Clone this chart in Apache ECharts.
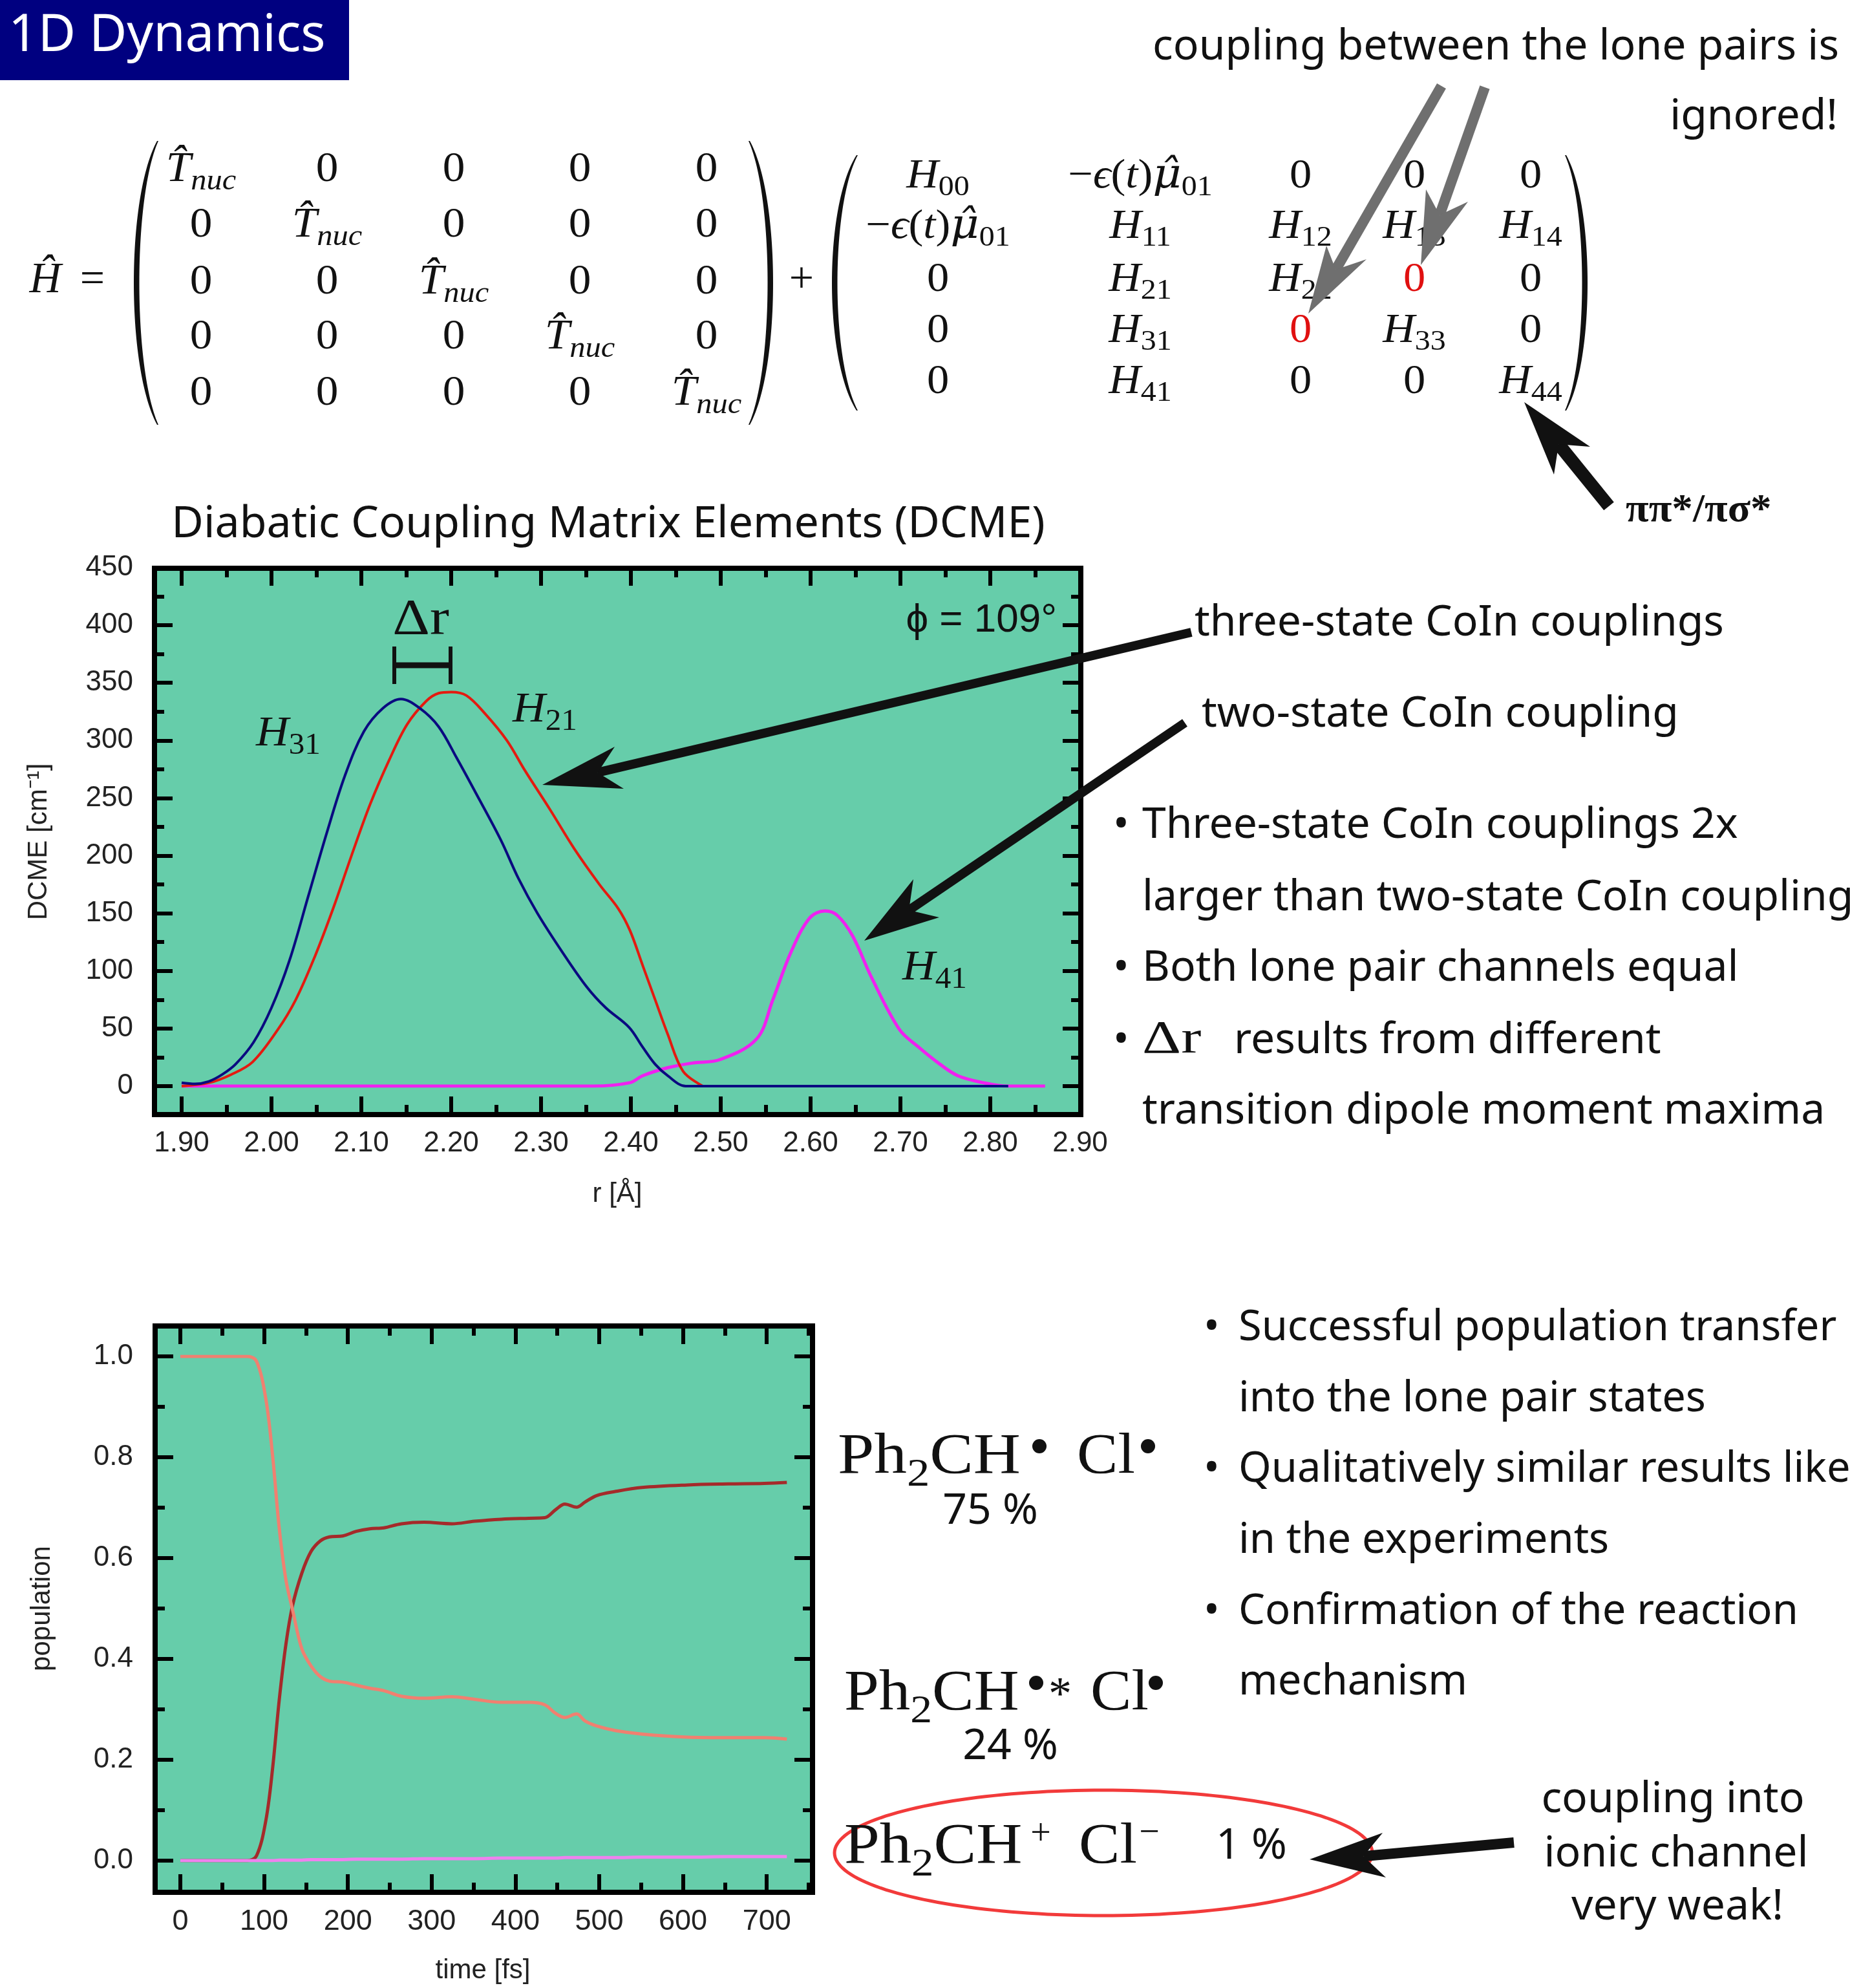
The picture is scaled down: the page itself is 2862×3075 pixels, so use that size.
<!DOCTYPE html>
<html><head><meta charset="utf-8">
<script src="https://cdn.jsdelivr.net/npm/echarts@6/dist/echarts.min.js"></script>
<style>html,body{margin:0;padding:0;background:#fff}#c{width:2862px;height:3075px}</style>
</head><body><div id="c"></div>
<script>
// ---------------- DATA ----------------
// Diabatic coupling matrix elements vs r [Å]
const rH31 = [1.90,1.915,1.93,1.945,1.96,1.98,2.00,2.02,2.041,2.062,2.082,2.103,2.124,2.144,2.165,2.186,2.206,2.227,2.255,2.275,2.296,2.324,2.351,2.372,2.398,2.413,2.427,2.441,2.461,2.50,2.82];
const vH31 = [3,2,4,10,19,38,68,109,165,221,270,308,328,336,328,312,285,255,214,180,150,116,86,68,51,34,19,9,0,0,0];
const rH21 = [1.90,1.931,1.955,1.979,2.007,2.027,2.048,2.069,2.089,2.11,2.131,2.151,2.172,2.186,2.2,2.217,2.238,2.262,2.282,2.31,2.337,2.365,2.386,2.399,2.413,2.427,2.441,2.458,2.48];
const vH21 = [0,3,10,21,49,75,112,155,200,245,283,314,334,341,342,339,323,300,274,240,206,175,154,135,105,75,45,13,0];
const rH41 = [1.90,2.30,2.358,2.399,2.413,2.441,2.468,2.499,2.54,2.558,2.578,2.599,2.616,2.63,2.647,2.668,2.699,2.72,2.744,2.764,2.792,2.819,2.861];
const vH41 = [0,0,0,3,9,16,20,23,41,75,116,146,152,148,130,94,49,34,19,9,3,0,0];
// Populations vs time [fs]
const timeFs = [0,80,91,102,110,118,126,134,145,156,167,178,194,210,226,243,264,291,324,351,383,416,435,448,459,473,483,497,519,551,605,654,697,724];
const popLonePair = [0,0,0.01,0.079,0.181,0.318,0.429,0.506,0.57,0.613,0.634,0.642,0.644,0.653,0.658,0.66,0.668,0.671,0.668,0.673,0.677,0.679,0.68,0.696,0.707,0.701,0.711,0.724,0.732,0.74,0.745,0.747,0.748,0.75];
const popPiPi = [1,1,0.99,0.916,0.805,0.66,0.557,0.497,0.42,0.386,0.365,0.356,0.354,0.348,0.342,0.337,0.326,0.322,0.325,0.32,0.314,0.314,0.309,0.292,0.284,0.291,0.277,0.267,0.258,0.251,0.245,0.244,0.244,0.241];
const popIonic = [0,0,0,0,0,0.001,0.001,0.001,0.001,0.002,0.002,0.002,0.002,0.003,0.003,0.003,0.003,0.004,0.004,0.004,0.005,0.005,0.005,0.005,0.006,0.006,0.006,0.006,0.006,0.007,0.007,0.008,0.008,0.008];
// tick values of the time axis
const timeMajorTicks = [0,100,200,300,400,500,600,700];

// ---------------- helpers ----------------
const zip = (a, b) => a.map((v, i) => [v, b[i]]);
const SANS = "'Noto Sans','Open Sans',sans-serif";
const CHART = "'Liberation Sans',Arial,sans-serif";
const SERIF = "'Liberation Serif','DejaVu Serif',serif";

function T(x, y, text, fs, o) {
  o = o || {};
  const st = {text: text, fill: o.fill || '#111', fontSize: fs, fontFamily: o.ff || SANS,
    fontStyle: o.fst || 'normal', fontWeight: o.fw || 'normal',
    textAlign: o.al || 'left', align: o.al || 'left', textVerticalAlign: 'middle', verticalAlign: 'middle'};
  if (o.rich) st.rich = o.rich;
  const el = {type: 'text', x: x, y: y, z: 110, style: st};
  if (o.rot) el.rotation = o.rot;
  if (o.sx) el.scaleX = o.sx;
  return el;
}
function mathRich(fs, col) {
  col = col || '#111';
  const sub = {fontSize: fs * 0.7, fontFamily: SERIF, fill: col, padding: [fs * 0.55, 0, 0, 0]};
  return {
    i: {fontSize: fs, fontFamily: SERIF, fontStyle: 'italic', fill: col},
    mu: {fontSize: fs, fontFamily: "'DejaVu Serif',serif", fontStyle: 'italic', fill: col},
    r: {fontSize: fs, fontFamily: SERIF, fill: col},
    red: {fontSize: fs, fontFamily: SERIF, fill: '#e01010'},
    sr: sub,
    si: Object.assign({}, sub, {fontStyle: 'italic'}),
    sub2: {fontSize: fs * 0.7, fontFamily: SERIF, fill: col, padding: [fs * 0.6, 0, 0, 0]}
  };
}
function bez(p0, p1, p2, p3, n) {
  const pts = [];
  for (let i = 0; i <= n; i++) {
    const t = i / n, u = 1 - t;
    pts.push([u*u*u*p0[0] + 3*u*u*t*p1[0] + 3*u*t*t*p2[0] + t*t*t*p3[0],
              u*u*u*p0[1] + 3*u*u*t*p1[1] + 3*u*t*t*p2[1] + t*t*t*p3[1]]);
  }
  return pts;
}
function paren(xEnd, xOut, yTop, yBot, thick) {
  const dir = xOut < xEnd ? 1 : -1;
  const c1 = (8 * xOut - 2 * xEnd) / 6, xIn = xOut + dir * thick, c2 = (8 * xIn - 2 * xEnd) / 6;
  const h = yBot - yTop, ya = yTop + 0.2 * h, yb = yBot - 0.2 * h;
  const outer = bez([xEnd, yTop], [c1, ya], [c1, yb], [xEnd, yBot], 60);
  const inner = bez([xEnd + dir * 2, yBot], [c2, yb], [c2, ya], [xEnd + dir * 2, yTop], 60);
  return {type: 'polygon', z: 100, shape: {points: outer.concat(inner)}, style: {fill: '#111'}};
}
function arrow(tail, tip, b1, b2, w, color) {
  const mx = (b1[0] + b2[0]) / 2, my = (b1[1] + b2[1]) / 2;
  const nx = tip[0] + 0.72 * (mx - tip[0]), ny = tip[1] + 0.72 * (my - tip[1]);
  return [
    {type: 'line', z: 120, shape: {x1: tail[0], y1: tail[1], x2: nx, y2: ny}, style: {stroke: color, lineWidth: w}},
    {type: 'polygon', z: 121, shape: {points: [tip, b1, [nx, ny], b2]}, style: {fill: color}}
  ];
}
function ellipse(cx, cy, rx, ry) {
  const pts = [];
  for (let i = 0; i < 180; i++) { const a = i / 180 * 2 * Math.PI; pts.push([cx + rx * Math.cos(a), cy + ry * Math.sin(a)]); }
  return {type: 'polygon', z: 105, shape: {points: pts}, style: {fill: 'none', stroke: '#f23a3a', lineWidth: 5}};
}
function dot(cx, cy, r) { return {type: 'circle', z: 110, shape: {cx: cx, cy: cy, r: r}, style: {fill: '#111'}}; }

// ---------------- matrix text ----------------
const TN = '{i|T\u0302}{si|nuc}';
const EPS = '{r|\u2212}{i|\u03f5}{r|(}{i|t}{r|)}{mu|\u03bc\u0302}{sr|01}';
const Hs = s => '{i|H}{sr|' + s + '}';
const Z = '{r|0}', ZR = '{red|0}';
const M1 = [[TN, Z, Z, Z, Z], [Z, TN, Z, Z, Z], [Z, Z, TN, Z, Z], [Z, Z, Z, TN, Z], [Z, Z, Z, Z, TN]];
const M2 = [[Hs('00'), EPS, Z, Z, Z], [EPS, Hs('11'), Hs('12'), Hs('13'), Hs('14')],
            [Z, Hs('21'), Hs('22'), ZR, Z], [Z, Hs('31'), ZR, Hs('33'), Z], [Z, Hs('41'), Z, Z, Hs('44')]];
const M1cols = [311, 506, 702, 897, 1093], M1rows = [263, 349, 437, 522, 609];
const M2cols = [1451, 1764, 2012, 2188, 2368], M2rows = [273, 351, 433, 512, 591];

const g = [];
// title box
g.push({type: 'rect', z: 100, shape: {x: 0, y: 0, width: 540, height: 124}, style: {fill: '#000080'}});
g.push(T(13, 56, '1D Dynamics', 80, {fill: '#ffffff'}));
// matrices
const r1 = mathRich(66), r2 = mathRich(64);
g.push(T(70, 434, '{i|\u0124}', 68, {al: 'center', rich: mathRich(68)}));
g.push(T(143, 434, '{r|=}', 68, {al: 'center', rich: mathRich(68)}));
g.push(T(1240, 434, '{r|+}', 68, {al: 'center', rich: mathRich(68)}));
M1.forEach((row, i) => row.forEach((c, j) => g.push(T(M1cols[j], M1rows[i], c, 66, {al: 'center', rich: r1, sx: 1.05}))));
M2.forEach((row, i) => row.forEach((c, j) => g.push(T(M2cols[j], M2rows[i], c, 64, {al: 'center', rich: r2, sx: 1.07}))));
g.push(paren(243, 207, 218, 657, 8), paren(1160, 1196, 218, 657, 8));
g.push(paren(1325, 1287, 240, 635, 8), paren(2423, 2456, 240, 635, 8));
// annotations top right
g.push(T(2845, 73, 'coupling between the lone pairs is', 66, {al: 'right'}));
g.push(T(2843, 181, 'ignored!', 66, {al: 'right'}));
g.push(...arrow([2230, 133], [2024, 485], [2052, 380], [2114, 401], 16, '#6f6f6f'));
g.push(...arrow([2297, 135], [2198, 410], [2206, 293], [2271, 312], 16, '#6f6f6f'));
g.push(...arrow([2489, 783], [2358, 622], [2404, 734], [2460, 691], 20, '#111'));
g.push(T(2515, 790, '\u03c0\u03c0*/\u03c0\u03c3*', 62, {ff: SERIF, fw: 'bold', sx: 1.05}));
// chart frames
g.push({type: 'rect', z: -10, shape: {x: 239, y: 879, width: 1433, height: 845}, style: {fill: '#66cdaa', stroke: '#000', lineWidth: 8}});
g.push({type: 'rect', z: -10, shape: {x: 240, y: 2051, width: 1017, height: 876}, style: {fill: '#66cdaa', stroke: '#000', lineWidth: 8}});
g.push(T(941, 812, 'Diabatic Coupling Matrix Elements (DCME)', 68, {al: 'center'}));
g.push(T(651, 960, '{r|\u0394r}', 78, {al: 'center', rich: mathRich(78), sx: 1.15}));
g.push({type: 'line', z: 110, shape: {x1: 610, y1: 1029, x2: 697, y2: 1029}, style: {stroke: '#111', lineWidth: 9}});
g.push({type: 'line', z: 110, shape: {x1: 610, y1: 1000, x2: 610, y2: 1058}, style: {stroke: '#111', lineWidth: 6}});
g.push({type: 'line', z: 110, shape: {x1: 697, y1: 1000, x2: 697, y2: 1058}, style: {stroke: '#111', lineWidth: 6}});
g.push(T(1635, 960, '\u03d5 = 109\u00b0', 62, {al: 'right', ff: CHART}));
const rc = mathRich(65);
g.push(T(396, 1136, Hs('31'), 65, {rich: rc, sx: 1.08}));
g.push(T(793, 1099, Hs('21'), 65, {rich: rc, sx: 1.08}));
g.push(T(1396, 1498, Hs('41'), 65, {rich: rc, sx: 1.08}));
g.push(...arrow([1843, 978], [839, 1214], [951, 1155], [965, 1220], 14, '#111'));
g.push(...arrow([1833, 1118], [1337, 1455], [1413, 1360], [1453, 1419], 14, '#111'));
// top-right text
g.push(T(1848, 964, 'three-state CoIn couplings', 66));
g.push(T(1859, 1105, 'two-state CoIn coupling', 66));
const BX1 = 1722, TX1 = 1767;
g.push(T(BX1, 1277, '\u2022', 66), T(TX1, 1277, 'Three-state CoIn couplings 2x', 66));
g.push(T(TX1, 1389, 'larger than two-state CoIn coupling', 66));
g.push(T(BX1, 1498, '\u2022', 66), T(TX1, 1498, 'Both lone pair channels equal', 66));
g.push(T(BX1, 1610, '\u2022', 66), T(TX1, 1609, '{r|\u0394r}', 72, {rich: mathRich(72), sx: 1.3}), T(1909, 1610, 'results from different', 66));
g.push(T(TX1, 1719, 'transition dipole moment maxima', 66));
// bottom-right text
const BX2 = 1862, TX2 = 1916;
g.push(T(BX2, 2054, '\u2022', 66), T(TX2, 2054, 'Successful population transfer', 65));
g.push(T(TX2, 2164, 'into the lone pair states', 65));
g.push(T(BX2, 2273, '\u2022', 66), T(TX2, 2273, 'Qualitatively similar results like', 65));
g.push(T(TX2, 2383, 'in the experiments', 65));
g.push(T(BX2, 2493, '\u2022', 66), T(TX2, 2493, 'Confirmation of the reaction', 65));
g.push(T(TX2, 2602, 'mechanism', 65));
// species labels
const rch = mathRich(88);
g.push(T(1296, 2255, '{r|Ph}{sub2|2}{r|CH}', 88, {rich: rch, sx: 1.15}));
g.push(dot(1608, 2237, 11), T(1666, 2255, '{r|Cl}', 88, {rich: rch, sx: 1.08}), dot(1776, 2237, 11));
g.push(T(1532, 2338, '75 %', 66, {al: 'center'}));
g.push(T(1306, 2621, '{r|Ph}{sub2|2}{r|CH}', 88, {rich: rch, sx: 1.1}));
g.push(dot(1603, 2603, 11), T(1640, 2624, '*', 72, {al: 'center', ff: SERIF}));
g.push(T(1687, 2621, '{r|Cl}', 88, {rich: rch, sx: 1.08}), dot(1788, 2603, 11));
g.push(T(1563, 2702, '24 %', 66, {al: 'center'}));
g.push(T(1306, 2858, '{r|Ph}{sub2|2}{r|CH}', 88, {rich: rch, sx: 1.12}));
g.push(T(1610, 2838, '+', 56, {al: 'center', ff: SERIF}));
g.push(T(1669, 2858, '{r|Cl}', 88, {rich: rch, sx: 1.08}));
g.push(T(1778, 2836, '\u2212', 56, {al: 'center', ff: SERIF}));
g.push(T(1936, 2856, '1 %', 66, {al: 'center'}));
g.push(ellipse(1707, 2866, 416, 97));
g.push(...arrow([2342, 2850], [2026, 2876], [2139, 2835], [2144, 2904], 16, '#111'));
g.push(T(2588, 2784, 'coupling into', 66, {al: 'center'}));
g.push(T(2593, 2868, 'ionic channel', 66, {al: 'center'}));
g.push(T(2595, 2950, 'very weak!', 66, {al: 'center'}));

// ---------------- chart ----------------
const tickStyle = {color: '#000', width: 6};
const tick = {inside: true, length: 28, lineStyle: tickStyle};
const minor = {show: true, splitNumber: 2, length: 15, lineStyle: tickStyle};
const lab = (fs, m, f) => ({fontSize: fs, fontFamily: CHART, color: '#222', margin: m, formatter: f});
const nameStyle = pad => ({fontSize: 42, fontFamily: CHART, color: '#222', padding: pad});
function ax(extra) {
  return Object.assign({type: 'value', axisLine: {show: false, onZero: false}, axisTick: tick, minorTick: minor,
    splitLine: {show: false}, minorSplitLine: {show: false}, axisLabel: {show: false}}, extra);
}
const tMajor = {inside: true, length: 28, lineStyle: tickStyle, customValues: timeMajorTicks};
const tMinor = {inside: true, length: 15, lineStyle: tickStyle};
const option = {
  animation: false,
  backgroundColor: '#ffffff',
  grid: [
    {left: 281, top: 878, width: 1390, height: 802, containLabel: false, outerBoundsMode: 'none'},
    {left: 279, top: 2098, width: 972, height: 780, containLabel: false, outerBoundsMode: 'none'}
  ],
  xAxis: [
    ax({gridIndex: 0, min: 1.9, max: 2.9, interval: 0.1, position: 'bottom', offset: 44,
        axisLabel: lab(44, 23, v => v.toFixed(2)), name: 'r [\u00c5]', nameLocation: 'middle', nameGap: 102, nameTextStyle: nameStyle([0, 42, 0, 0])}),
    ax({gridIndex: 0, min: 1.9, max: 2.9, interval: 0.1, position: 'top', offset: 0}),
    ax({gridIndex: 1, min: 0, max: 750, interval: 100, position: 'bottom', offset: 49, axisTick: tMajor, minorTick: {show: false},
        axisLabel: Object.assign(lab(45, 23, v => (v % 100 === 0 ? String(v) : '')), {customValues: timeMajorTicks}),
        name: 'time [fs]', nameLocation: 'middle', nameGap: 100, nameTextStyle: nameStyle([0, 36, 0, 0])}),
    ax({gridIndex: 1, min: 0, max: 750, interval: 50, position: 'bottom', offset: 49, axisTick: tMinor, minorTick: {show: false}}),
    ax({gridIndex: 1, min: 0, max: 750, interval: 100, position: 'top', offset: 47, axisTick: tMajor, minorTick: {show: false}}),
    ax({gridIndex: 1, min: 0, max: 750, interval: 50, position: 'top', offset: 47, axisTick: tMinor, minorTick: {show: false}})
  ],
  yAxis: [
    ax({gridIndex: 0, min: 0, max: 450, interval: 50, position: 'left', offset: 42,
        axisLabel: lab(44, 33, v => String(v)), name: 'DCME [cm\u207b\u00b9]', nameLocation: 'middle', nameGap: 158, nameTextStyle: nameStyle([0, 46, 0, 0])}),
    ax({gridIndex: 0, min: 0, max: 450, interval: 50, position: 'right', offset: 1}),
    ax({gridIndex: 1, min: 0, max: 1, interval: 0.2, position: 'left', offset: 39,
        axisLabel: lab(44, 34, v => v.toFixed(1)), name: 'population', nameLocation: 'middle', nameGap: 154, nameTextStyle: nameStyle([0, 0, 0, 0])}),
    ax({gridIndex: 1, min: 0, max: 1, interval: 0.2, position: 'right', offset: 6})
  ],
  series: [
    {name: 'H41', type: 'line', xAxisIndex: 0, yAxisIndex: 0, data: zip(rH41, vH41), showSymbol: false, smooth: 0.35, lineStyle: {color: '#f020f0', width: 5}, z: 3},
    {name: 'H21', type: 'line', xAxisIndex: 0, yAxisIndex: 0, data: zip(rH21, vH21), showSymbol: false, smooth: 0.35, lineStyle: {color: '#e41a10', width: 4}, z: 4},
    {name: 'H31', type: 'line', xAxisIndex: 0, yAxisIndex: 0, data: zip(rH31, vH31), showSymbol: false, smooth: 0.35, lineStyle: {color: '#0a0a80', width: 4}, z: 5},
    {name: 'Ph2CH\u2022 Cl\u2022', type: 'line', xAxisIndex: 2, yAxisIndex: 2, data: zip(timeFs, popLonePair), showSymbol: false, smooth: 0.35, lineStyle: {color: '#a52a2a', width: 5}, z: 3},
    {name: 'Ph2CH\u2022* Cl\u2022', type: 'line', xAxisIndex: 2, yAxisIndex: 2, data: zip(timeFs, popPiPi), showSymbol: false, smooth: 0.35, lineStyle: {color: '#f08070', width: 5}, z: 4},
    {name: 'Ph2CH+ Cl-', type: 'line', xAxisIndex: 2, yAxisIndex: 2, data: zip(timeFs, popIonic), showSymbol: false, smooth: 0.35, lineStyle: {color: '#ee82ee', width: 5}, z: 5}
  ],
  graphic: {elements: g}
};
const chart = echarts.init(document.getElementById('c'), null, {renderer: 'canvas', width: 2862, height: 3075});
chart.setOption(option);
</script>
</body></html>
